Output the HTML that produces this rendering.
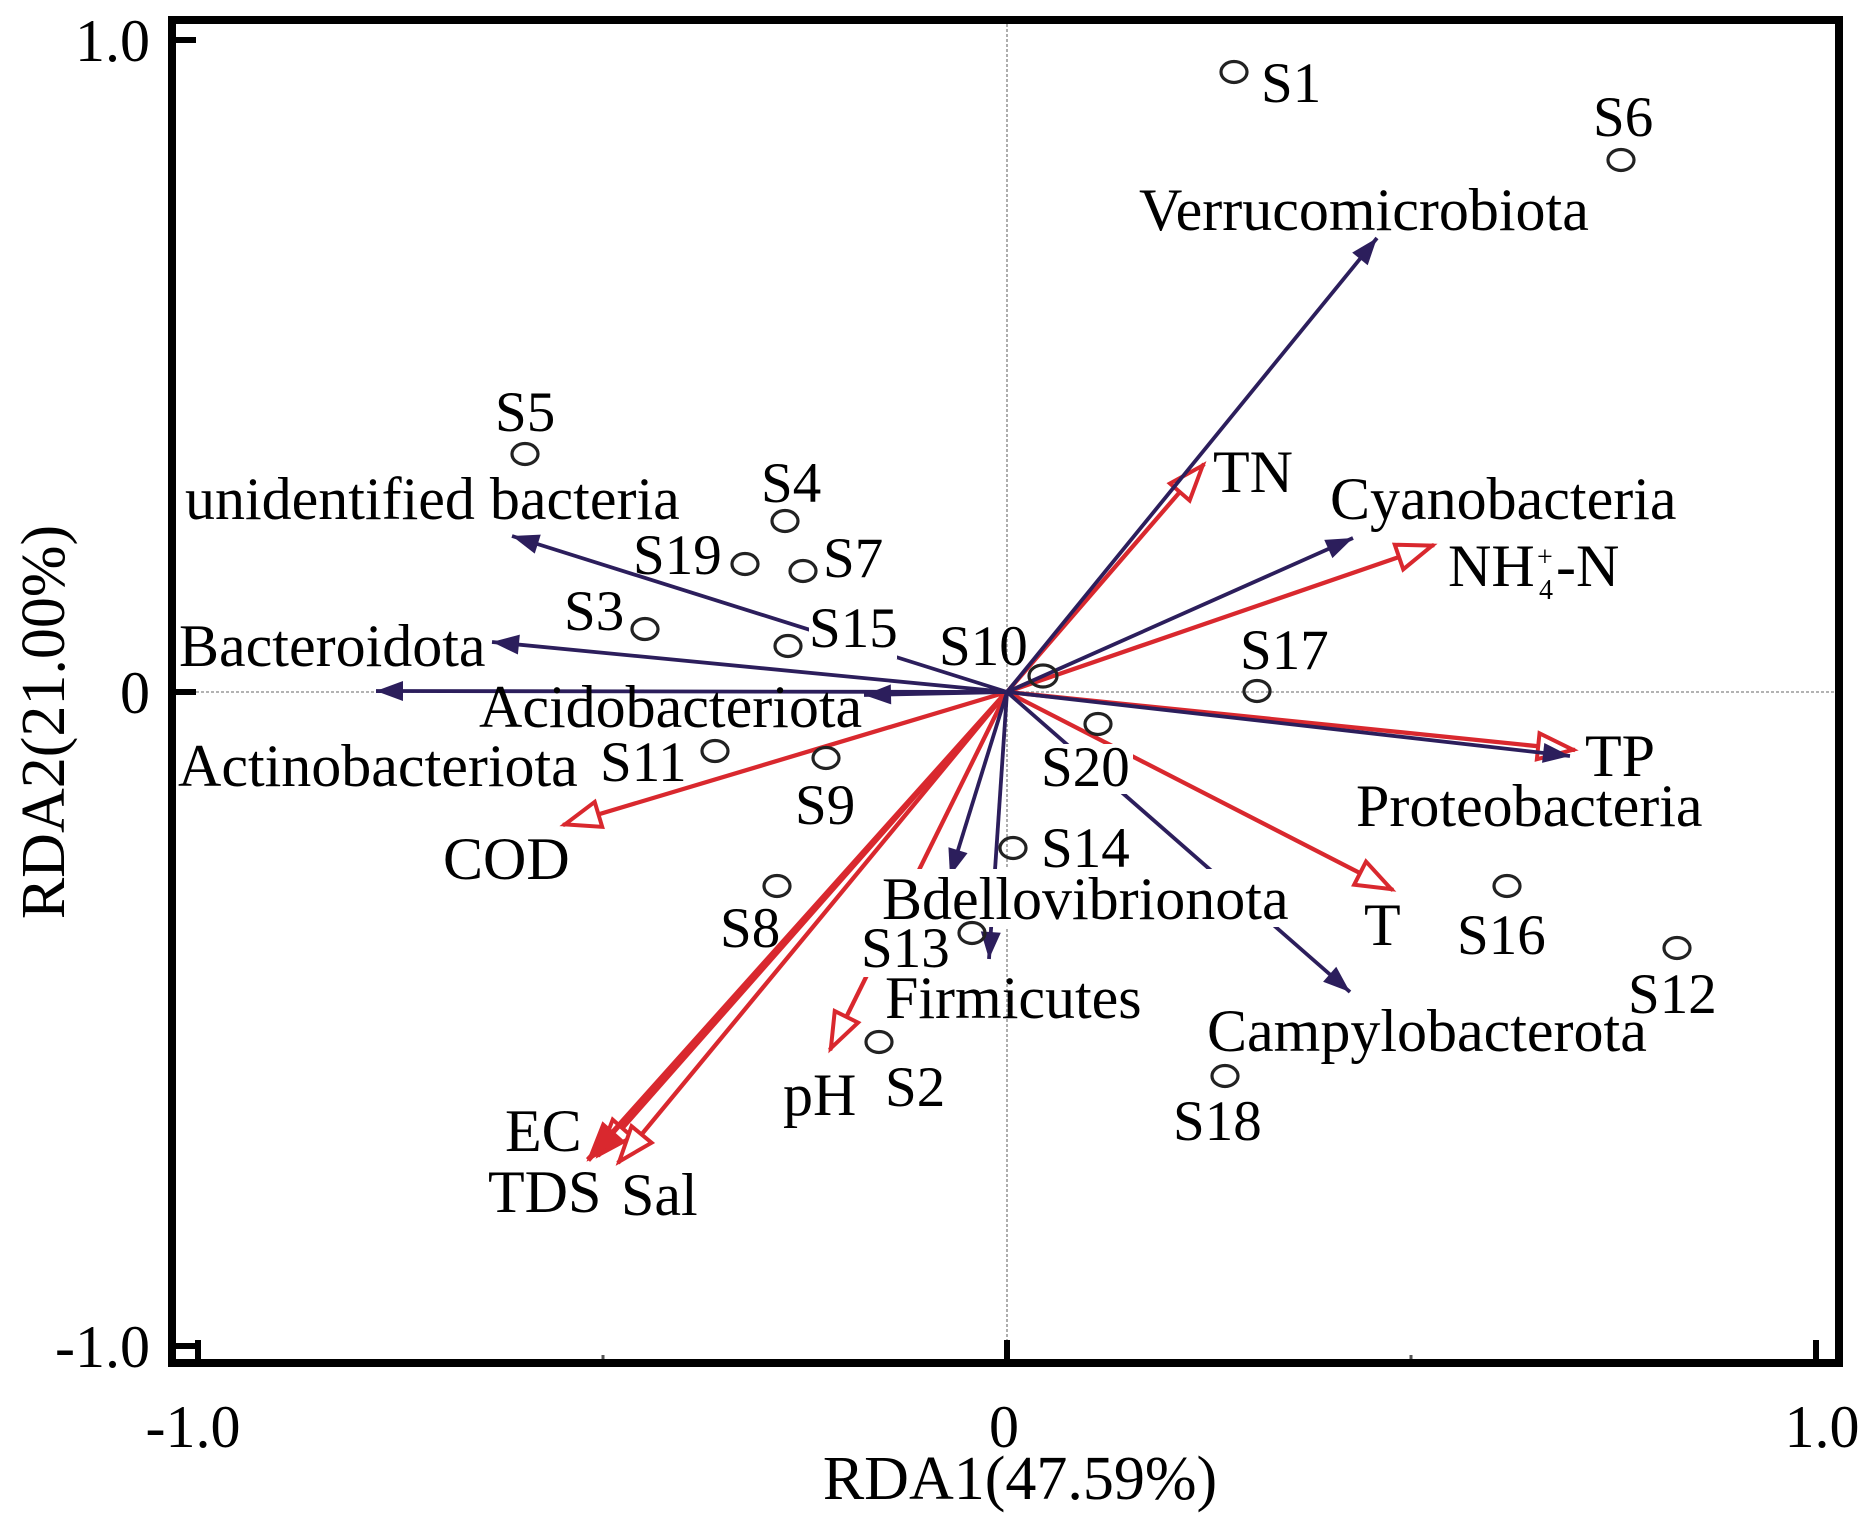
<!DOCTYPE html>
<html>
<head>
<meta charset="utf-8">
<style>
  html, body { margin: 0; padding: 0; background: #ffffff; }
  svg { display: block; }
  text { font-family: "Liberation Serif", "Times New Roman", serif; fill: #000; }
</style>
</head>
<body>
<svg width="1872" height="1520" viewBox="0 0 1872 1520" xmlns="http://www.w3.org/2000/svg">
  <defs>
    <marker id="bh" markerUnits="userSpaceOnUse" viewBox="-32 -13 34 26" markerWidth="34" markerHeight="26" refX="0" refY="0" orient="auto">
      <path d="M0,0 L-27,-10 L-27,10 Z" fill="#2c1e5c"/>
    </marker>
    <marker id="rh" markerUnits="userSpaceOnUse" viewBox="-44 -19 48 38" markerWidth="48" markerHeight="38" refX="0" refY="0" orient="auto">
      <path d="M-2,0 L-37,-13 L-37,13 Z" fill="#ffffff" stroke="#d9282e" stroke-width="4"/>
    </marker>
    <marker id="rhf" markerUnits="userSpaceOnUse" viewBox="-44 -19 48 38" markerWidth="48" markerHeight="38" refX="0" refY="0" orient="auto">
      <path d="M-2,0 L-37,-13 L-37,13 Z" fill="#d9282e" stroke="#d9282e" stroke-width="3"/>
    </marker>
  </defs>

  <rect x="0" y="0" width="1872" height="1520" fill="#ffffff"/>

  <!-- dotted zero lines -->
  <line x1="1007" y1="24" x2="1007" y2="1359" stroke="#9a9a9a" stroke-width="1.6" stroke-dasharray="3 2"/>
  <line x1="176" y1="692" x2="1835" y2="692" stroke="#9a9a9a" stroke-width="1.6" stroke-dasharray="3 2"/>

  <!-- red (environmental) arrows -->
  <g stroke="#d9282e" stroke-width="4.3" fill="none">
    <line x1="1007" y1="692" x2="1204" y2="464" marker-end="url(#rh)"/>
    <line x1="1007" y1="692" x2="1434" y2="545" marker-end="url(#rh)"/>
    <line x1="1007" y1="692" x2="1575" y2="750" marker-end="url(#rh)"/>
    <line x1="1007" y1="692" x2="1393" y2="890" marker-end="url(#rh)"/>
    <line x1="1007" y1="692" x2="563" y2="825" marker-end="url(#rh)"/>
    <line x1="1007" y1="692" x2="830" y2="1050" marker-end="url(#rh)"/>
    <line x1="1007" y1="692" x2="598" y2="1156" marker-end="url(#rh)"/>
    <line x1="1007" y1="692" x2="618" y2="1163" marker-end="url(#rh)"/>
    <line x1="1007" y1="692" x2="588" y2="1160" stroke-width="5.5" marker-end="url(#rhf)"/>
  </g>

  <!-- blue (taxa) arrows -->
  <g stroke="#2c1e5c" stroke-width="3.8" fill="none">
    <line x1="1007" y1="692" x2="1377" y2="238" marker-end="url(#bh)"/>
    <line x1="1007" y1="692" x2="1353" y2="538" marker-end="url(#bh)"/>
    <line x1="1007" y1="692" x2="1570" y2="756" marker-end="url(#bh)"/>
    <line x1="1007" y1="692" x2="1350" y2="992" marker-end="url(#bh)"/>
    <line x1="1007" y1="692" x2="989" y2="959" marker-end="url(#bh)"/>
    <line x1="1007" y1="692" x2="950" y2="876" marker-end="url(#bh)"/>
    <line x1="1007" y1="692" x2="864" y2="695" marker-end="url(#bh)"/>
    <line x1="1007" y1="692" x2="376" y2="691" marker-end="url(#bh)"/>
    <line x1="1007" y1="692" x2="492" y2="642" marker-end="url(#bh)"/>
    <line x1="1007" y1="692" x2="512" y2="536" marker-end="url(#bh)"/>
  </g>

  <!-- white label boxes that interrupt lines -->
  <g fill="#ffffff">
    <rect x="809" y="607" width="88" height="52"/>
    <rect x="1041" y="744" width="92" height="50"/>
    <rect x="880" y="869" width="416" height="58"/>
    <rect x="860" y="927" width="90" height="50"/>
  </g>

  <!-- sample circles -->
  <g fill="none" stroke="#222" stroke-width="3.2">
    <ellipse cx="1234" cy="72" rx="13" ry="10.5"/>
    <ellipse cx="1621" cy="160" rx="13" ry="10.5"/>
    <ellipse cx="525" cy="454" rx="13" ry="10.5"/>
    <ellipse cx="785" cy="521" rx="13" ry="10.5"/>
    <ellipse cx="745" cy="564" rx="13" ry="10.5"/>
    <ellipse cx="803" cy="571" rx="13" ry="10.5"/>
    <ellipse cx="645" cy="629" rx="13" ry="10.5"/>
    <ellipse cx="788" cy="646" rx="13" ry="10.5"/>
    <ellipse cx="1043" cy="676" rx="14" ry="11"/>
    <ellipse cx="1257" cy="691" rx="13" ry="10.5"/>
    <ellipse cx="1098" cy="724" rx="13" ry="10.5"/>
    <ellipse cx="1013" cy="848" rx="13" ry="10.5"/>
    <ellipse cx="1507" cy="886" rx="13" ry="10.5"/>
    <ellipse cx="1677" cy="948" rx="13" ry="10.5"/>
    <ellipse cx="1225" cy="1076" rx="13" ry="10.5"/>
    <ellipse cx="972" cy="933" rx="13" ry="10.5"/>
    <ellipse cx="879" cy="1042" rx="13" ry="10.5"/>
    <ellipse cx="777" cy="886" rx="13" ry="10.5"/>
    <ellipse cx="826" cy="758" rx="13" ry="10.5"/>
    <ellipse cx="715" cy="751" rx="13" ry="10.5"/>
  </g>

  <!-- species / environmental labels -->
  <g font-size="60">
    <text x="1139" y="230">Verrucomicrobiota</text>
    <text x="1330" y="519">Cyanobacteria</text>
    <text x="1213" y="492">TN</text>
    <text x="1448" y="586">NH</text>
    <text x="1537" y="566" font-size="28">+</text>
    <text x="1539" y="599" font-size="28">4</text>
    <text x="1556" y="586">-N</text>
    <text x="185" y="519">unidentified bacteria</text>
    <text x="179" y="666">Bacteroidota</text>
    <text x="479" y="727">Acidobacteriota</text>
    <text x="178" y="786">Actinobacteriota</text>
    <text x="443" y="879">COD</text>
    <text x="882" y="919">Bdellovibrionota</text>
    <text x="885" y="1018">Firmicutes</text>
    <text x="783" y="1115">pH</text>
    <text x="505" y="1151">EC</text>
    <text x="488" y="1212">TDS</text>
    <text x="621" y="1215">Sal</text>
    <text x="1585" y="776">TP</text>
    <text x="1356" y="826">Proteobacteria</text>
    <text x="1364" y="945">T</text>
    <text x="1207" y="1051">Campylobacterota</text>
  </g>

  <!-- sample labels -->
  <g font-size="57">
    <text x="1261" y="102">S1</text>
    <text x="1593" y="136">S6</text>
    <text x="495" y="431">S5</text>
    <text x="761" y="502">S4</text>
    <text x="633" y="574">S19</text>
    <text x="823" y="577">S7</text>
    <text x="564" y="630">S3</text>
    <text x="809" y="647">S15</text>
    <text x="939" y="665">S10</text>
    <text x="1240" y="669">S17</text>
    <text x="1041" y="786">S20</text>
    <text x="1041" y="867">S14</text>
    <text x="1457" y="954">S16</text>
    <text x="1628" y="1013">S12</text>
    <text x="1173" y="1140">S18</text>
    <text x="861" y="967">S13</text>
    <text x="885" y="1106">S2</text>
    <text x="720" y="947">S8</text>
    <text x="795" y="824">S9</text>
    <text x="600" y="781">S11</text>
  </g>

  <!-- frame -->
  <rect x="172" y="20" width="1667" height="1343" fill="none" stroke="#000" stroke-width="8"/>

  <!-- ticks -->
  <g stroke="#000" stroke-width="6">
    <line x1="176" y1="40" x2="196" y2="40"/>
    <line x1="176" y1="692" x2="196" y2="692"/>
    <line x1="176" y1="1346" x2="196" y2="1346"/>
    <line x1="198" y1="1359" x2="198" y2="1340"/>
    <line x1="1007" y1="1359" x2="1007" y2="1340"/>
    <line x1="1816" y1="1359" x2="1816" y2="1340"/>
  </g>
  <g stroke="#555" stroke-width="3">
    <line x1="603" y1="1359" x2="603" y2="1355"/>
    <line x1="1411" y1="1359" x2="1411" y2="1355"/>
  </g>

  <!-- tick labels -->
  <g font-size="60">
    <text x="150" y="61" text-anchor="end">1.0</text>
    <text x="150" y="713" text-anchor="end">0</text>
    <text x="150" y="1367" text-anchor="end">-1.0</text>
    <text x="193" y="1447" text-anchor="middle">-1.0</text>
    <text x="1004" y="1447" text-anchor="middle">0</text>
    <text x="1822" y="1447" text-anchor="middle">1.0</text>
  </g>

  <!-- axis titles -->
  <text x="1020" y="1499" font-size="62" text-anchor="middle">RDA1(47.59%)</text>
  <text x="0" y="0" font-size="62" text-anchor="middle" transform="translate(64,722) rotate(-90)">RDA2(21.00%)</text>
</svg>
</body>
</html>
